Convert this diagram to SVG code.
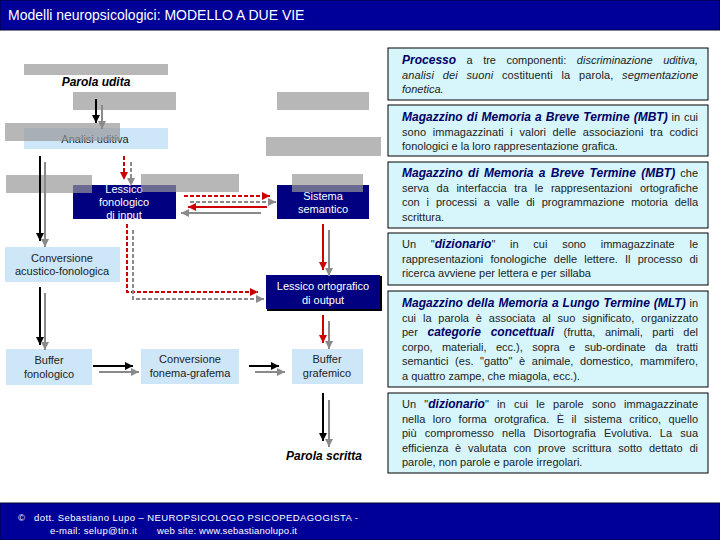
<svg xmlns="http://www.w3.org/2000/svg" width="720" height="540" viewBox="0 0 720 540">
<style>
.bar{fill:#000099;stroke:#000033;stroke-width:1}
.title{font-family:"Liberation Sans",Arial,sans-serif;font-size:14px;fill:#fff}
.foot{font-family:"Liberation Sans",Arial,sans-serif;font-size:9.5px;fill:#fff}
.lb{fill:#cde7f8}
.db{fill:#000080}
.gb{fill:#999;opacity:0.7}
.nt{font-family:"Liberation Sans",Arial,sans-serif;font-size:11px;fill:#222;text-anchor:middle}
.wt{font-family:"Liberation Sans",Arial,sans-serif;font-size:11px;fill:#fff;text-anchor:middle}
.pw{font-family:"Liberation Sans",Arial,sans-serif;font-size:12px;font-weight:bold;font-style:italic;fill:#000;text-anchor:middle}
.box{fill:#d6f6fb;stroke:#000;stroke-width:1}
.pt{font-family:"Liberation Sans",Arial,sans-serif;font-size:11px;fill:#222}
.bi{font-weight:bold;font-style:italic;fill:#000066;font-size:12px}
.it{font-style:italic}
.k{stroke:#000;stroke-width:2;fill:none}
.g{stroke:#8a8a8a;stroke-width:2;fill:none}
.r{stroke:#cc0000;stroke-width:2;fill:none}
.d{stroke-dasharray:4 2}
</style>
<defs>
<marker id="ak" viewBox="0 0 10 10" refX="10" refY="5" markerWidth="8" markerHeight="8" markerUnits="userSpaceOnUse" orient="auto"><path d="M0,0 L10,5 L0,10 z" fill="#000"/></marker>
<marker id="ag" viewBox="0 0 10 10" refX="10" refY="5" markerWidth="8" markerHeight="8" markerUnits="userSpaceOnUse" orient="auto"><path d="M0,0 L10,5 L0,10 z" fill="#8a8a8a"/></marker>
<marker id="ar" viewBox="0 0 10 10" refX="10" refY="5" markerWidth="8" markerHeight="8" markerUnits="userSpaceOnUse" orient="auto"><path d="M0,0 L10,5 L0,10 z" fill="#cc0000"/></marker>
</defs>
<rect width="720" height="540" fill="#fff"/>
<g id="titlebar">
<rect class="bar" x="0" y="0" width="720" height="30"/>
<text class="title" x="8" y="20">Modelli neuropsicologici: MODELLO A DUE VIE</text>
</g>
<g id="footer">
<rect class="bar" x="0" y="503" width="720" height="37"/>
<text class="foot" x="18" y="521">©</text>
<text class="foot" x="34" y="521" textLength="324" lengthAdjust="spacing">dott. Sebastiano Lupo – NEUROPSICOLOGO PSICOPEDAGOGISTA -</text>
<text class="foot" x="50" y="534" textLength="87" lengthAdjust="spacing">e-mail: selup@tin.it</text>
<text class="foot" x="157" y="534" textLength="140" lengthAdjust="spacing">web site: www.sebastianolupo.it</text>
</g>
<g id="parola-udita"><text class="pw" x="96" y="86">Parola udita</text></g>
<g id="analisi-uditiva"><rect class="lb" x="24" y="128" width="144" height="21"/><text class="nt" x="95" y="143">Analisi uditiva</text></g>
<g id="lessico-fonologico-input"><rect class="db" x="73" y="185" width="103" height="34"/><text class="wt" x="124" y="193">Lessico</text><text class="wt" x="124" y="206">fonologico</text><text class="wt" x="124" y="219">di input</text></g>
<g id="sistema-semantico"><rect class="db" x="277" y="185" width="92" height="34"/><text class="wt" x="323" y="200">Sistema</text><text class="wt" x="323" y="213">semantico</text></g>
<g id="conversione-acustico"><rect class="lb" x="5" y="247" width="115" height="35"/><text class="nt" x="62" y="262">Conversione</text><text class="nt" x="62" y="275">acustico-fonologica</text></g>
<g id="lessico-ortografico-output"><rect x="267" y="276" width="115" height="35" fill="#000"/><rect class="db" x="266" y="275" width="114" height="34"/><text class="wt" x="323" y="290">Lessico ortografico</text><text class="wt" x="323" y="304">di output</text></g>
<g id="buffer-fonologico"><rect class="lb" x="6" y="349" width="86" height="36"/><text class="nt" x="49" y="364">Buffer</text><text class="nt" x="49" y="378">fonologico</text></g>
<g id="conversione-fonema"><rect class="lb" x="141" y="349" width="98" height="35"/><text class="nt" x="190" y="363">Conversione</text><text class="nt" x="190" y="377">fonema-grafema</text></g>
<g id="buffer-grafemico"><rect class="lb" x="292" y="349" width="71" height="35"/><text class="nt" x="327" y="363">Buffer</text><text class="nt" x="327" y="377">grafemico</text></g>
<g id="parola-scritta"><text class="pw" x="324" y="460">Parola scritta</text></g>
<g id="gray-bars">
<rect class="gb" x="24" y="64" width="144" height="11"/>
<rect class="gb" x="73" y="92" width="103" height="18"/>
<rect class="gb" x="277" y="92" width="92" height="18"/>
<rect class="gb" x="5" y="123" width="115" height="18"/>
<rect class="gb" x="266" y="137" width="115" height="19"/>
<rect class="gb" x="6" y="175" width="86" height="18"/>
<rect class="gb" x="141" y="174" width="98" height="18"/>
<rect class="gb" x="292" y="174" width="71" height="18"/>
</g>
<g id="connectors">
<path class="k" d="M96,99 V123" marker-end="url(#ak)"/>
<path class="g" d="M102,105 V129" marker-end="url(#ag)"/>
<path class="k" d="M40,156 V241" marker-end="url(#ak)"/>
<path class="g" d="M45,162 V247" marker-end="url(#ag)"/>
<path class="k" d="M40,287 V345" marker-end="url(#ak)"/>
<path class="g" d="M45,293 V350" marker-end="url(#ag)"/>
<path class="k" d="M93,366 H133" marker-end="url(#ak)"/>
<path class="g" d="M99,372 H139" marker-end="url(#ag)"/>
<path class="k" d="M249,366 H279" marker-end="url(#ak)"/>
<path class="g" d="M255,372 H285" marker-end="url(#ag)"/>
<path class="k" d="M323,393 V441" marker-end="url(#ak)"/>
<path class="g" d="M329,400 V447" marker-end="url(#ag)"/>
<path class="r" d="M323,224 V270" marker-end="url(#ar)"/>
<path class="g" d="M329,230 V276" marker-end="url(#ag)"/>
<path class="r" d="M323,315 V343" marker-end="url(#ar)"/>
<path class="g" d="M329,321 V349" marker-end="url(#ag)"/>
<path class="r" d="M267,207 H188" marker-end="url(#ar)"/>
<path class="g" d="M261,213 H181" marker-end="url(#ag)"/>
<path class="r d" d="M124,156 V180" marker-end="url(#ar)"/>
<path class="g d" d="M131,162 V186" marker-end="url(#ag)"/>
<path class="r d" d="M184,196 H270" marker-end="url(#ar)"/>
<path class="g d" d="M190,202 H276" marker-end="url(#ag)"/>
<path class="r d" d="M127,224 V292 H258" marker-end="url(#ar)"/>
<path class="g d" d="M133,230 V299 H264" marker-end="url(#ag)"/>
</g>
<g id="note-1">
<rect class="box" x="388" y="48" width="320" height="52"/>
<text class="pt" x="402" y="64" word-spacing="7.4" textLength="296" lengthAdjust="spacing"><tspan class="bi">Processo</tspan> a tre componenti: <tspan class="it">discriminazione uditiva,</tspan></text>
<text class="pt" x="402" y="78.5" word-spacing="5.6" textLength="296" lengthAdjust="spacing"><tspan class="it">analisi dei suoni</tspan> costituenti la parola, <tspan class="it">segmentazione</tspan></text>
<text class="pt it" x="402" y="93">fonetica.</text>
</g>
<g id="note-2">
<rect class="box" x="388" y="105" width="320" height="51"/>
<text class="pt" x="402" y="121" word-spacing="0.8" textLength="296" lengthAdjust="spacing"><tspan class="bi">Magazzino di Memoria a Breve Termine (MBT)</tspan> in cui</text>
<text class="pt" x="402" y="135.5" word-spacing="3.4" textLength="296" lengthAdjust="spacing">sono immagazzinati i valori delle associazioni tra codici</text>
<text class="pt" x="402" y="150">fonologici e la loro rappresentazione grafica.</text>
</g>
<g id="note-3">
<rect class="box" x="388" y="162" width="320" height="66"/>
<text class="pt" x="402" y="177" word-spacing="2" textLength="296" lengthAdjust="spacing"><tspan class="bi">Magazzino di Memoria a Breve Termine (MBT)</tspan> che</text>
<text class="pt" x="402" y="191.5" word-spacing="4.6" textLength="296" lengthAdjust="spacing">serva da interfaccia tra le rappresentazioni ortografiche</text>
<text class="pt" x="402" y="206" word-spacing="3.8" textLength="296" lengthAdjust="spacing">con i processi a valle di programmazione motoria della</text>
<text class="pt" x="402" y="220.5">scrittura.</text>
</g>
<g id="note-4">
<rect class="box" x="388" y="233" width="320" height="52"/>
<text class="pt" x="402" y="248" word-spacing="11.7" textLength="296" lengthAdjust="spacing">Un "<tspan class="bi">dizionario</tspan>" in cui sono immagazzinate le</text>
<text class="pt" x="402" y="262.5" word-spacing="4.1" textLength="296" lengthAdjust="spacing">rappresentazioni fonologiche delle lettere. Il processo di</text>
<text class="pt" x="402" y="277">ricerca avviene per lettera e per sillaba</text>
</g>
<g id="note-5">
<rect class="box" x="388" y="291" width="320" height="96"/>
<text class="pt" x="402" y="307" word-spacing="0.6" textLength="296" lengthAdjust="spacing"><tspan class="bi">Magazzino della Memoria a Lungo Termine (MLT)</tspan> in</text>
<text class="pt" x="402" y="321.5" word-spacing="3.8" textLength="296" lengthAdjust="spacing">cui la parola è associata al suo significato, organizzato</text>
<text class="pt" x="402" y="336" word-spacing="6.5" textLength="296" lengthAdjust="spacing">per <tspan class="bi">categorie concettuali</tspan> (frutta, animali, parti del</text>
<text class="pt" x="402" y="350.5" word-spacing="6.3" textLength="296" lengthAdjust="spacing">corpo, materiali, ecc.), sopra e sub-ordinate da tratti</text>
<text class="pt" x="402" y="365" word-spacing="3.6" textLength="296" lengthAdjust="spacing">semantici (es. "gatto" è animale, domestico, mammifero,</text>
<text class="pt" x="402" y="379.5">a quattro zampe, che miagola, ecc.).</text>
</g>
<g id="note-6">
<rect class="box" x="388" y="393" width="320" height="80"/>
<text class="pt" x="402" y="408" word-spacing="5.2" textLength="296" lengthAdjust="spacing">Un "<tspan class="bi">dizionario</tspan>" in cui le parole sono immagazzinate</text>
<text class="pt" x="402" y="422.5" word-spacing="4.4" textLength="296" lengthAdjust="spacing">nella loro forma orotgrafica. È il sistema critico, quello</text>
<text class="pt" x="402" y="437" word-spacing="5.1" textLength="296" lengthAdjust="spacing">più compromesso nella Disortografia Evolutiva. La sua</text>
<text class="pt" x="402" y="451.5" word-spacing="3.75" textLength="296" lengthAdjust="spacing">efficienza è valutata con prove scrittura sotto dettato di</text>
<text class="pt" x="402" y="466">parole, non parole e parole irregolari.</text>
</g>
</svg>
